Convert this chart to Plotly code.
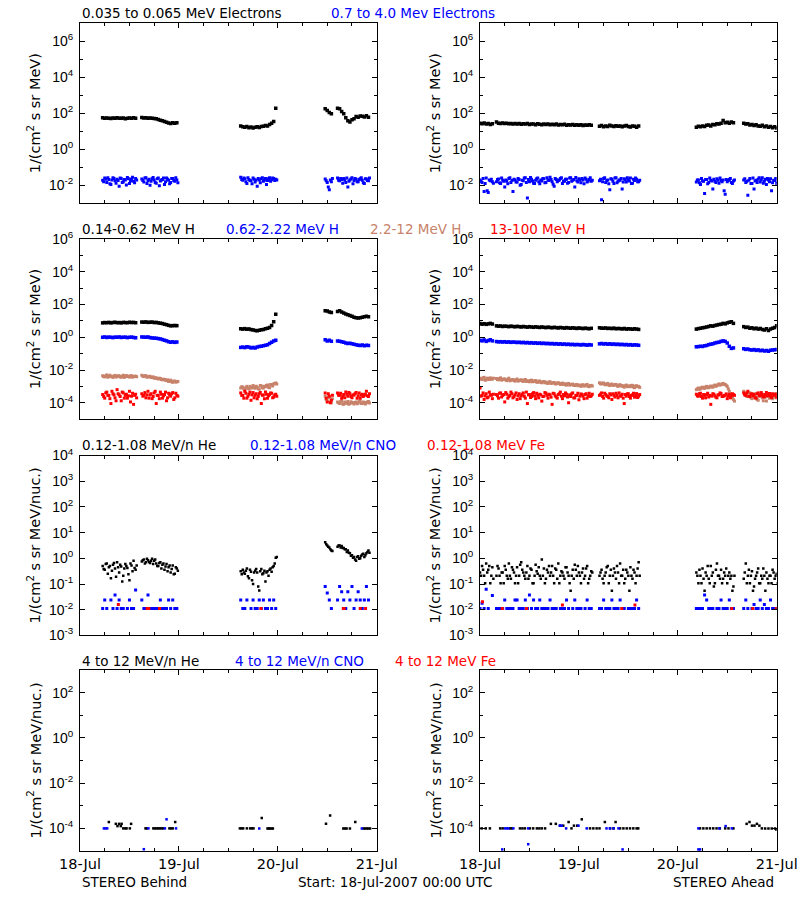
import pandas as pd
import plotly.graph_objects as go

# ---------------------------------------------------------------- data
START = pd.Timestamp("2007-07-18 00:00")
STEP_H = 0.5   # hours between samples inside a data segment
HALF_H = 0.25  # second ("_b") sample set sits half-way between the first

# start hour of each data segment (STEREO Behind / STEREO Ahead)
BEHIND_STARTS = [5.5, 15.0, 39.0, 59.5, 62.5]
AHEAD_STARTS = [0.0, 4.0, 29.0, 52.5, 64.0]

# ---- Row 1: electrons, log10 flux
beh_e_low = [
    [1.75, 1.72, 1.74, 1.73, 1.71, 1.74, 1.72, 1.75, 1.73, 1.72, 1.74, 1.70, 1.73, 1.74, 1.72, 1.75, 1.73],
    [1.76, 1.74, 1.75, 1.73, 1.74, 1.72, 1.71, 1.70, 1.66, 1.62, 1.58, 1.55, 1.50, 1.46, 1.44, 1.47, 1.45, 1.48],
    [1.30, 1.25, 1.22, 1.27, 1.20, 1.24, 1.18, 1.22, 1.25, 1.21, 1.26, 1.28, 1.32, 1.30, 1.38, 1.45, 1.55, 2.28],
    [2.25, 2.15, 2.05, 1.98],
    [2.28, 2.25, 2.10, 1.98, 1.75, 1.58, 1.52, 1.64, 1.70, 1.82, 1.78, 1.85, 1.83, 1.80, 1.86, 1.78],
]
beh_e_high = [
    [-1.72, -1.60, -1.85, -1.68, -1.95, -1.58, -1.75, -1.66, -2.05, -1.62, -1.80, -1.70, -1.57, -1.90, -1.65, -1.78, -1.62],
    [-1.65, -1.82, -1.58, -1.74, -2.00, -1.63, -1.70, -1.88, -1.60, -1.76, -1.68, -1.95, -1.59, -1.72, -1.84, -1.62, -1.78, -1.70],
    [-1.55, -1.72, -1.64, -1.90, -1.68, -1.75, -1.60, -1.82, -2.05, -1.70, -1.64, -1.78, -1.62, -1.73, -1.58, -1.69, -1.62, -1.66],
    [-1.65, -1.85, -2.25, -1.80],
    [-1.60, -1.75, -1.68, -1.62, -1.85, -2.10, -1.70, -1.58, -1.74, -1.66, -1.80, -1.63, -1.72, -1.90, -1.65, -1.75],
]
beh_e_high_b = [
    [-1.80, -1.66, -1.58, -1.92, -1.70, -1.62, -1.88, -1.74, -1.60, -1.84, -1.68, -1.98, -1.64, -1.76, -1.55, -1.86, -1.70],
    [-1.74, -1.60, -1.90, -1.66, -1.78, -1.56, -1.84, -1.64, -2.02, -1.70, -1.60, -1.80, -1.66, -1.92, -1.62, -1.74, -1.58, -1.86],
    [-1.68, -1.60, -1.80, -1.58, -1.74, -1.92, -1.66, -1.70, -1.62, -1.86, -1.58, -1.72, -1.95, -1.64, -1.78, -1.60, -1.74, -1.70],
    [-1.75, -2.10, -1.70, -1.62],
    [-1.72, -1.62, -1.88, -1.70, -1.60, -1.78, -1.65, -1.92, -1.62, -1.80, -1.68, -1.58, -1.86, -1.64, -1.74, -1.60],
]
ahe_e_low = [
    [1.45, 1.42, 1.46, 1.40, 1.44, 1.38, 1.42],
    [1.52, 1.45, 1.44, 1.46, 1.43, 1.45, 1.42, 1.44, 1.40, 1.43, 1.41, 1.44, 1.39, 1.42, 1.40, 1.43,
     1.38, 1.41, 1.40, 1.37, 1.42, 1.39, 1.36, 1.40, 1.38, 1.41, 1.36, 1.39, 1.37, 1.40, 1.35, 1.38,
     1.36, 1.39, 1.34, 1.37, 1.35, 1.38, 1.33, 1.36, 1.34, 1.37, 1.32, 1.35, 1.33, 1.36, 1.34],
    [1.28, 1.32, 1.25, 1.30, 1.27, 1.33, 1.29, 1.26, 1.31, 1.28, 1.30, 1.25, 1.29, 1.32, 1.27, 1.24, 1.30, 1.28, 1.22, 1.29],
    [1.22, 1.28, 1.25, 1.30, 1.27, 1.33, 1.35, 1.30, 1.38, 1.36, 1.42, 1.40, 1.45, 1.60, 1.48, 1.50, 1.45, 1.52, 1.47],
    [1.45, 1.40, 1.42, 1.35, 1.38, 1.32, 1.36, 1.30, 1.28, 1.33, 1.25, 1.30, 1.22, 1.27, 1.20, 1.25, 1.18],
]
ahe_e_high = [
    [-1.70, -1.85, -2.35, -1.60, -2.40, -1.75, -1.80],
    [-1.80, -1.65, -1.90, -1.72, -2.10, -1.78, -1.62, -1.85, -2.35, -1.70, -1.82, -1.68, -1.95, -1.75, -1.58, -2.70,
     -1.80, -1.66, -1.88, -1.72, -1.60, -1.92, -1.76, -1.64, -1.85, -1.70, -1.55, -1.80, -2.05, -1.68, -1.74, -1.62,
     -1.90, -1.78, -1.66, -1.84, -1.58, -1.72, -2.10, -1.75, -1.63, -1.86, -1.70, -1.60, -1.82, -1.68, -1.78],
    [-1.75, -2.80, -1.62, -1.85, -1.70, -2.25, -1.66, -1.90, -1.58, -1.78, -1.72, -2.20, -1.64, -1.82, -1.70, -1.60, -1.88, -1.74, -1.66, -1.80],
    [-1.82, -1.70, -1.95, -1.76, -2.45, -1.68, -1.85, -1.72, -2.20, -1.78, -1.64, -1.88, -1.74, -1.70, -2.50, -1.80, -1.68, -1.84, -1.76],
    [-1.70, -1.85, -2.55, -1.62, -1.90, -2.20, -1.72, -1.66, -1.82, -1.58, -1.78, -1.95, -1.70, -1.64, -1.86, -1.74, -1.90],
]
ahe_e_high_b = [
    [-1.78, -1.62, -1.90, -2.30, -1.70, -1.66, -1.88],
    [-1.68, -1.86, -1.60, -1.78, -1.70, -1.92, -1.58, -1.74, -1.66, -1.82, -1.62, -2.00, -1.72, -1.60, -1.84, -1.68,
     -1.56, -1.76, -1.90, -1.64, -1.80, -1.70, -1.62, -1.86, -1.58, -1.74, -1.68, -1.94, -1.62, -1.80, -1.70, -1.58,
     -1.76, -1.66, -1.88, -1.60, -1.78, -1.68, -1.56, -1.82, -1.70, -1.62, -1.92, -1.66, -1.76, -1.58, -1.72],
    [-1.66, -1.80, -1.58, -1.74, -1.92, -1.64, -1.78, -1.60, -1.86, -1.70, -1.62, -1.82, -1.68, -1.58, -1.76, -1.90, -1.66, -1.60, -1.80, -1.72],
    [-1.70, -1.86, -1.62, -1.78, -1.68, -1.92, -1.60, -1.76, -1.66, -1.84, -1.72, -1.60, -1.80, -2.30, -1.68, -1.74, -1.62, -1.90, -1.70],
    [-1.64, -1.78, -1.72, -1.90, -1.60, -1.76, -1.84, -1.58, -1.70, -1.88, -1.66, -1.62, -1.80, -2.30, -1.72, -1.62, -1.80],
]

# ---- Row 2: protons, log10 flux
beh_h1 = [
    [0.88, 0.90, 0.89, 0.91, 0.88, 0.90, 0.92, 0.89, 0.90, 0.88, 0.91, 0.90, 0.89, 0.92, 0.90, 0.91, 0.89],
    [0.93, 0.92, 0.94, 0.91, 0.92, 0.93, 0.90, 0.91, 0.88, 0.86, 0.84, 0.80, 0.77, 0.73, 0.70, 0.71, 0.72, 0.71],
    [0.52, 0.50, 0.53, 0.49, 0.51, 0.47, 0.45, 0.42, 0.40, 0.43, 0.46, 0.48, 0.52, 0.55, 0.60, 0.72, 0.95, 1.40],
    [1.62, 1.60, 1.55, 1.52],
    [1.58, 1.62, 1.55, 1.48, 1.42, 1.38, 1.33, 1.28, 1.22, 1.20, 1.18, 1.20, 1.22, 1.25, 1.28, 1.26],
]
beh_h2 = [
    [0.00, 0.02, -0.01, 0.01, 0.00, -0.02, 0.01, 0.00, 0.02, -0.01, 0.00, 0.01, -0.02, 0.00, 0.01, -0.01, -0.03],
    [0.02, 0.01, 0.00, 0.02, -0.02, -0.04, -0.05, -0.06, -0.08, -0.10, -0.14, -0.18, -0.22, -0.27, -0.30, -0.28, -0.31, -0.29],
    [-0.62, -0.60, -0.63, -0.58, -0.60, -0.65, -0.62, -0.66, -0.60, -0.57, -0.55, -0.52, -0.48, -0.45, -0.38, -0.30, -0.22, -0.18],
    [-0.15, -0.22, -0.18, -0.25],
    [-0.22, -0.25, -0.28, -0.30, -0.35, -0.38, -0.36, -0.40, -0.42, -0.45, -0.48, -0.50, -0.47, -0.52, -0.49, -0.50],
]
beh_h3 = [
    [-2.35, -2.42, -2.30, -2.40, -2.38, -2.45, -2.33, -2.40, -2.36, -2.44, -2.32, -2.40, -2.37, -2.43, -2.35, -2.40, -2.38],
    [-2.32, -2.40, -2.35, -2.42, -2.38, -2.45, -2.50, -2.48, -2.55, -2.52, -2.60, -2.58, -2.65, -2.70, -2.62, -2.75, -2.68, -2.72],
    [-3.10, -3.05, -3.20, -3.00, -3.15, -3.08, -2.95, -3.12, -3.05, -3.18, -2.98, -3.10, -3.02, -2.92, -3.08, -2.90, -2.85, -2.80],
    [-3.60, -3.90, -3.70, -4.00],
    [-3.95, -4.05, -3.90, -4.10, -4.00, -3.92, -4.05, -3.98, -4.08, -3.95, -4.02, -3.90, -4.05, -3.98, -4.00, -3.93],
]
beh_h3_b = [
    [-2.40, -2.36, -2.44, -2.32, -2.41, -2.37, -2.43, -2.35, -2.42, -2.38, -2.45, -2.34, -2.40, -2.36, -2.44, -2.38, -2.41],
    [-2.38, -2.35, -2.44, -2.40, -2.46, -2.42, -2.48, -2.52, -2.50, -2.58, -2.56, -2.62, -2.60, -2.66, -2.72, -2.68, -2.74, -2.70],
    [-3.02, -3.15, -3.08, -3.12, -3.00, -3.10, -3.05, -3.00, -3.15, -2.95, -3.08, -3.00, -2.95, -3.05, -2.88, -2.98, -2.82, -2.85],
    [-3.80, -3.65, -3.95, -3.75],
    [-4.00, -3.92, -4.08, -3.96, -4.05, -4.10, -3.94, -4.02, -3.98, -4.06, -3.92, -4.04, -3.96, -4.08, -3.95, -4.02],
]
beh_h4 = [
    [-3.50, -3.72, -3.35, -3.55, -4.05, -3.45, -3.70, -3.20, -3.52, -3.88, -3.40, -3.55, -3.72, -3.30, -3.60, -4.10, -3.48],
    [-3.45, -3.55, -3.70, -3.30, -3.52, -3.75, -3.40, -4.05, -3.55, -3.35, -3.72, -3.50, -3.88, -3.42, -3.60, -3.38, -3.70, -3.55],
    [-3.40, -3.55, -3.30, -3.72, -3.48, -3.85, -3.38, -3.55, -3.75, -3.45, -4.05, -3.52, -3.35, -3.72, -3.50, -3.42, -3.65, -3.48],
    [-3.40, -3.95, -3.60, -3.85],
    [-3.40, -3.55, -3.72, -3.50, -3.35, -3.60, -3.45, -3.70, -3.52, -3.38, -3.58, -3.72, -3.48, -3.55, -3.30, -3.62],
]
beh_h4_b = [
    [-3.62, -3.40, -3.55, -3.75, -3.30, -3.52, -3.88, -3.45, -3.62, -3.35, -3.72, -3.48, -3.58, -3.95, -3.42, -3.55, -3.70],
    [-3.60, -3.38, -3.52, -3.72, -3.45, -3.62, -3.30, -3.55, -3.75, -3.48, -3.58, -3.35, -3.70, -3.52, -3.45, -3.80, -3.42, -3.60],
    [-3.55, -3.72, -3.42, -3.60, -3.35, -3.52, -3.70, -3.45, -3.62, -3.38, -3.55, -3.75, -3.48, -3.58, -3.40, -3.70, -3.52, -3.60],
    [-3.72, -3.45, -4.00, -3.55],
    [-3.55, -3.42, -3.60, -3.70, -3.48, -3.38, -3.62, -3.52, -3.45, -3.72, -3.40, -3.55, -3.62, -3.48, -3.58, -3.45],
]
ahe_h1 = [
    [0.84, 0.80, 0.83, 0.79, 0.82, 0.85, 0.81],
    [0.70, 0.68, 0.69, 0.66, 0.68, 0.67, 0.65, 0.68, 0.66, 0.64, 0.67, 0.65, 0.63, 0.66, 0.64, 0.62,
     0.65, 0.63, 0.61, 0.64, 0.62, 0.60, 0.63, 0.61, 0.59, 0.62, 0.60, 0.58, 0.61, 0.59, 0.57, 0.60,
     0.58, 0.56, 0.59, 0.57, 0.55, 0.58, 0.56, 0.54, 0.57, 0.55, 0.53, 0.56, 0.54, 0.52, 0.55],
    [0.58, 0.56, 0.55, 0.57, 0.54, 0.55, 0.53, 0.56, 0.52, 0.54, 0.53, 0.51, 0.54, 0.50, 0.52, 0.51, 0.49, 0.52, 0.50, 0.48],
    [0.50, 0.53, 0.55, 0.58, 0.60, 0.63, 0.66, 0.70, 0.68, 0.72, 0.75, 0.78, 0.80, 0.85, 0.82, 0.88, 0.92, 0.95, 0.85],
    [0.65, 0.60, 0.62, 0.55, 0.58, 0.52, 0.56, 0.50, 0.54, 0.48, 0.45, 0.52, 0.42, 0.50, 0.55, 0.60, 0.70],
]
ahe_h2 = [
    [-0.18, -0.22, -0.16, -0.25, -0.20, -0.15, -0.22],
    [-0.26, -0.28, -0.27, -0.29, -0.27, -0.30, -0.28, -0.31, -0.29, -0.30, -0.32, -0.30, -0.33, -0.31, -0.34, -0.32,
     -0.35, -0.33, -0.36, -0.34, -0.37, -0.35, -0.38, -0.36, -0.39, -0.37, -0.40, -0.38, -0.41, -0.39, -0.42, -0.40,
     -0.43, -0.41, -0.44, -0.42, -0.45, -0.43, -0.46, -0.44, -0.45, -0.47, -0.44, -0.46, -0.48, -0.45, -0.47],
    [-0.40, -0.38, -0.41, -0.39, -0.42, -0.40, -0.43, -0.41, -0.44, -0.42, -0.45, -0.43, -0.46, -0.44, -0.47, -0.45, -0.48, -0.46, -0.47, -0.49],
    [-0.58, -0.57, -0.55, -0.56, -0.52, -0.50, -0.45, -0.42, -0.40, -0.35, -0.32, -0.30, -0.25, -0.22, -0.25, -0.35, -0.55, -0.68, -0.65],
    [-0.70, -0.74, -0.72, -0.76, -0.78, -0.75, -0.80, -0.77, -0.82, -0.79, -0.84, -0.81, -0.85, -0.80, -0.78, -0.76, -0.74],
]
ahe_h3 = [
    [-2.50, -2.58, -2.45, -2.60, -2.52, -2.48, -2.56],
    [-2.52, -2.60, -2.48, -2.58, -2.55, -2.65, -2.50, -2.62, -2.58, -2.68, -2.55, -2.64, -2.60, -2.70, -2.58, -2.66,
     -2.72, -2.62, -2.70, -2.65, -2.75, -2.68, -2.78, -2.70, -2.74, -2.82, -2.72, -2.80, -2.76, -2.85, -2.78, -2.88,
     -2.80, -2.84, -2.92, -2.82, -2.90, -2.86, -2.95, -2.88, -2.92, -3.00, -2.90, -2.96, -2.88, -3.02, -2.94],
    [-2.78, -2.85, -2.80, -2.90, -2.82, -2.95, -2.86, -2.92, -2.88, -3.00, -2.90, -2.95, -3.05, -2.92, -2.98, -3.02, -2.94, -3.08, -2.96, -3.00],
    [-3.20, -3.10, -3.15, -3.05, -3.12, -3.00, -3.08, -2.98, -3.05, -2.92, -2.95, -2.85, -2.90, -2.82, -2.88, -3.00, -3.30, -3.60, -3.80],
    [-3.30, -3.45, -3.60, -3.40, -3.75, -3.52, -3.65, -3.85, -3.48, -3.70, -3.58, -3.90, -3.62, -3.50, -3.75, -3.60, -3.45],
]
ahe_h3_b = [
    [-2.55, -2.48, -2.62, -2.50, -2.58, -2.54, -2.50],
    [-2.58, -2.52, -2.62, -2.55, -2.60, -2.57, -2.66, -2.60, -2.64, -2.60, -2.68, -2.62, -2.66, -2.62, -2.70, -2.68,
     -2.64, -2.72, -2.66, -2.74, -2.68, -2.76, -2.72, -2.78, -2.80, -2.74, -2.82, -2.78, -2.84, -2.80, -2.82, -2.86,
     -2.88, -2.90, -2.84, -2.92, -2.88, -2.94, -2.90, -2.96, -2.94, -2.92, -2.98, -2.92, -3.00, -2.95, -2.98],
    [-2.84, -2.80, -2.88, -2.85, -2.92, -2.88, -2.94, -2.90, -2.96, -2.92, -2.98, -3.00, -2.96, -3.02, -2.98, -2.94, -3.04, -2.98, -3.02, -3.06],
    [-3.15, -3.18, -3.08, -3.10, -3.04, -3.08, -3.02, -3.04, -2.96, -3.00, -2.90, -2.92, -2.86, -2.88, -2.94, -3.15, -3.45, -3.70, -3.90],
    [-3.50, -3.62, -3.40, -3.70, -3.58, -3.45, -3.80, -3.60, -3.55, -3.88, -3.65, -3.52, -3.72, -3.58, -3.66, -3.48, -3.62],
]
ahe_h4 = [
    [-3.10, -3.55, -3.80, -3.45, -3.65, -3.50, -3.75],
    [-3.50, -3.72, -3.40, -3.55, -3.95, -3.48, -3.62, -3.35, -3.70, -3.52, -3.80, -3.45, -3.58, -3.40, -3.72, -4.05,
     -3.50, -3.62, -3.38, -3.75, -3.55, -3.48, -3.90, -3.60, -3.42, -3.72, -3.52, -4.10, -3.45, -3.65, -3.50, -3.35,
     -3.75, -3.58, -3.48, -4.00, -3.62, -3.40, -3.70, -3.55, -3.82, -3.46, -3.60, -3.50, -3.72, -3.42, -3.58],
    [-3.55, -3.40, -3.72, -3.50, -3.62, -3.45, -3.80, -3.55, -3.42, -3.70, -3.58, -3.48, -4.05, -3.60, -3.45, -3.72, -3.52, -3.66, -3.44, -3.60],
    [-3.48, -3.60, -3.42, -3.72, -3.55, -3.50, -3.65, -4.10, -3.45, -3.58, -3.70, -3.52, -3.44, -3.62, -3.55, -3.75, -3.48, -3.58, -3.50],
    [-3.40, -3.55, -3.30, -3.62, -3.45, -3.50, -3.72, -3.40, -3.58, -3.48, -3.65, -3.38, -3.52, -3.60, -3.45, -3.55, -3.70],
]
ahe_h4_b = [
    [-3.60, -3.40, -3.58, -3.70, -3.35, -3.55, -3.48],
    [-3.58, -3.42, -3.65, -3.50, -3.38, -3.72, -3.55, -3.45, -3.62, -3.40, -3.58, -3.75, -3.48, -3.60, -3.35, -3.52,
     -3.68, -3.45, -3.58, -3.42, -3.70, -3.52, -3.62, -3.38, -3.55, -3.48, -3.66, -3.42, -3.58, -3.72, -3.45, -3.60,
     -3.50, -3.40, -3.65, -3.52, -3.46, -3.70, -3.55, -3.42, -3.60, -3.50, -3.75, -3.45, -3.58, -3.62, -3.48],
    [-3.48, -3.62, -3.42, -3.58, -3.70, -3.52, -3.45, -3.65, -3.55, -3.40, -3.60, -3.72, -3.50, -3.46, -3.62, -3.55, -3.42, -3.58, -3.68, -3.50],
    [-3.58, -3.45, -3.62, -3.50, -3.70, -3.42, -3.55, -3.60, -3.48, -3.66, -3.52, -3.40, -3.62, -3.55, -3.46, -3.60, -3.70, -3.45, -3.55],
    [-3.52, -3.40, -3.62, -3.48, -3.58, -3.70, -3.45, -3.55, -3.38, -3.62, -3.50, -3.58, -3.44, -3.68, -3.52, -3.46, -3.60],
]

# ---- Row 3: 0.12-1.08 MeV/n ions, log10 flux (None = no counts)
beh_he = [
    [-0.30, -0.45, -0.20, -0.35, -0.78, -0.25, -0.40, -0.15, -0.55, -0.32, -0.68, -0.22, -0.38, -0.85, -0.28, -0.10, -0.45],
    [-0.12, -0.05, -0.15, -0.08, -0.18, -0.02, -0.10, -0.20, -0.30, -0.15, -0.25, -0.45, -0.22, -0.35, -0.55, -0.28, -0.60, -0.40],
    [-0.50, -0.45, -0.60, -0.40, -0.78, -0.52, -1.00, -0.48, -0.55, -1.25, -0.42, -0.58, -0.90, -0.50, -0.45, -0.52, -0.30, 0.02],
    [0.62, 0.50, 0.42, 0.30],
    [0.45, 0.50, 0.48, 0.40, 0.35, 0.30, 0.20, 0.12, 0.05, -0.10, 0.08, 0.00, 0.15, 0.05, 0.20, 0.30],
]
beh_he_b = [
    [-0.42, -0.22, -0.60, -0.30, -0.48, -0.18, -0.72, -0.35, -0.25, -0.90, -0.40, -0.30, -0.62, -0.20, -0.50, -0.38, -0.28],
    [-0.08, -0.20, -0.02, -0.14, -0.10, -0.22, -0.05, -0.30, -0.18, -0.40, -0.20, -0.32, -0.50, -0.28, -0.42, -0.62, -0.35, -0.48],
    [-0.62, -0.55, -0.48, -0.70, -0.45, -0.85, -0.55, -0.42, -1.10, -0.50, -0.62, -0.48, -0.55, -0.68, -0.40, -0.35, -0.20, 0.05],
    [0.55, 0.45, 0.35, 0.28],
    [0.50, 0.42, 0.40, 0.35, 0.25, 0.22, 0.10, 0.02, -0.05, 0.05, -0.02, 0.10, 0.18, 0.12, 0.25, 0.22],
]
beh_cno = [
    [-1.95, -1.62, -1.95, None, -1.62, -1.95, -1.43, -1.95, -1.62, -1.95, -1.95, None, -1.95, -1.62, -1.95, -1.95, -1.23],
    [-1.62, -1.95, -1.95, -1.43, -1.95, -1.95, -1.95, -1.95, -1.95, -1.62, -1.95, -1.95, -1.95, -1.62, -1.95, -1.62, -1.95, -1.95],
    [-1.62, -1.95, -1.95, -1.62, None, -1.95, -1.62, -1.95, -1.95, -1.62, -1.95, -1.62, -1.95, -1.95, -1.62, -1.95, -1.62, -1.95],
    [-1.10, -1.35, -1.62, -1.95],
    [-1.62, -1.10, -1.30, -1.62, -1.95, -1.30, -1.62, -1.10, -1.95, -1.62, -1.30, -1.62, -1.95, -1.62, -1.10, -1.62],
]
beh_fe_hours = [9.3, 16.3, 16.7, 19.3, 43.9, 63.9, 64.1, 68.0, 69.3]
beh_fe = [-1.80, -1.95, -1.95, -1.95, -1.95, -1.95, -1.95, -1.95, -1.95]

ahe_he = [
    [-0.55, -0.30, -0.68, -0.20, -0.45, -0.97, -0.35],
    [-0.68, -0.40, -0.97, -0.55, -0.30, -0.68, -0.20, -0.80, -0.45, -0.97, -0.35, -0.68, -0.15, -0.55, -0.80, -0.30,
     -0.68, -0.45, -0.97, -0.25, -0.60, -0.68, -0.05, -0.40, -0.80, -0.55, -0.68, -0.30, -0.97, -0.45, -0.20, -0.68,
     -0.55, -0.80, -0.35, -0.68, -1.26, -0.45, -0.25, -0.68, -0.55, -0.97, -0.40, -0.68, -0.30, -0.80, -0.50],
    [-0.68, -0.45, -0.97, -0.55, -0.30, -0.68, -1.26, -0.40, -0.80, -0.55, -0.20, -0.68, -0.97, -0.45, -0.68, -0.35, -0.80, -0.55, -0.68, -0.15],
    [-0.55, -0.97, -0.68, -0.40, -1.26, -0.68, -0.80, -0.30, -0.55, -0.97, -0.20, -0.68, -0.45, -0.80, -0.68, -0.97, -0.55, -0.68, -1.10],
    [-0.80, -0.20, -0.68, -0.97, -0.50, -1.10, -0.68, -0.40, -0.97, -0.80, -0.68, -0.55, -0.97, -0.68, -0.45, -0.80, -0.60],
]
ahe_he_b = [
    [-0.68, -0.45, -0.97, -0.55, -0.30, -0.68, -0.80],
    [-0.30, -0.68, -0.55, -0.97, -0.45, -0.80, -0.68, -0.35, -0.55, -0.68, -0.97, -0.25, -0.45, -0.68, -0.55, -0.80,
     -0.40, -0.97, -0.68, -0.50, -0.35, -0.80, -0.68, -0.97, -0.45, -0.30, -0.55, -0.68, -0.40, -0.80, -0.97, -0.50,
     -0.68, -0.35, -0.55, -0.97, -0.68, -0.80, -0.45, -0.30, -0.68, -0.55, -0.80, -0.40, -0.97, -0.68, -0.55],
    [-0.55, -0.80, -0.68, -0.35, -0.97, -0.45, -0.68, -0.55, -0.30, -0.97, -0.68, -0.45, -0.80, -0.55, -1.26, -0.68, -0.45, -0.97, -0.40, -0.68],
    [-0.68, -0.45, -0.97, -0.80, -0.55, -0.30, -0.97, -0.68, -1.10, -0.45, -0.68, -0.80, -0.97, -0.55, -0.40, -0.68, -0.80, -1.26, -0.68],
    [-0.55, -0.97, -0.45, -0.68, -1.26, -0.80, -0.55, -0.97, -0.68, -0.40, -1.26, -0.80, -0.68, -0.97, -0.55, -0.68, -0.97],
]
ahe_cno = [
    [-1.95, -1.75, -1.95, -1.20, -1.95, None, -1.45],
    [-1.95, -1.95, -1.95, -1.95, -1.62, -1.95, -1.95, -1.95, -1.95, -1.62, -1.62, -1.95, -1.95, -1.95, -1.62, -1.95,
     -1.43, -1.95, -1.62, -1.95, -1.95, -1.62, -1.95, -1.95, -1.95, -1.95, -1.62, -1.95, -1.95, -1.95, None, -1.95,
     -1.95, -1.95, -1.62, -1.95, None, -1.95, -1.62, -1.95, -1.95, -1.95, None, -1.95, -1.62, -1.95, -1.95],
    [-1.95, -1.95, -1.62, -1.95, -1.95, -1.95, -1.62, -1.95, -1.95, -1.95, -1.62, -1.95, -1.95, None, -1.95, -1.95, -1.95, -1.95, -1.62, -1.95],
    [-1.95, -1.95, -1.95, -1.95, -1.43, -1.62, -1.95, -1.95, -1.95, None, -1.95, -1.95, -1.62, -1.95, -1.95, -1.95, -1.62, -1.95, -1.95],
    [-1.95, -1.62, -1.95, None, -1.95, -1.80, -1.95, -1.95, -1.62, -1.95, -1.80, -1.95, -1.95, -1.62, -1.95, -1.95, -1.95],
]
ahe_fe_hours = [0.6, 5.4, 11.3, 20.0, 34.4, 37.6, 61.1, 66.2, 71.9]
ahe_fe = [-1.69, -1.95, -1.95, -1.82, -1.95, -1.82, -1.95, -1.95, -1.95]

# ---- Row 4: 4-12 MeV/n ions (sparse), hours and log10 flux
beh_he4_hours = [7.0, 8.7, 9.1, 9.5, 9.9, 10.1, 10.5, 11.0, 11.3, 12.1, 12.4, 15.9, 16.2, 17.8, 18.2, 18.6, 19.0,
                 19.4, 19.8, 20.2, 21.7, 22.1, 22.5, 23.1, 38.8, 39.2, 39.6, 40.5, 41.3, 41.7, 42.1, 44.1, 45.5,
                 45.8, 46.1, 46.5, 46.8, 59.7, 60.7, 63.9, 64.3, 64.7, 65.5, 66.8, 68.8, 69.2, 69.6, 70.0, 70.4]
beh_he4 = [-3.72, -3.80, -3.90, -3.80, -3.90, -3.80, -4.00, -4.00, -4.00, -4.00, -3.80, -4.00, -4.00, -4.00, -4.00,
           -4.00, -4.00, -4.00, -4.00, -4.00, -4.00, -4.00, -4.00, -3.72, -4.00, -4.00, -4.00, -4.00, -4.00, -4.00,
           -4.00, -3.54, -4.00, -4.00, -4.00, -4.00, -4.00, -3.80, -3.43, -4.00, -4.00, -4.00, -4.00, -3.72, -4.00,
           -4.00, -4.00, -4.00, -4.00]
beh_cno4_hours = [5.8, 6.2, 6.6, 15.5, 16.6, 20.6, 21.0, 23.3, 43.5, 68.4]
beh_cno4 = [-4.00, -4.00, -4.00, -4.92, -4.00, -4.00, -3.60, -4.00, -4.00, -4.00]
ahe_he4_hours = [0.4, 1.4, 2.4, 4.9, 5.5, 7.3, 7.7, 9.7, 10.3, 10.9, 12.1, 12.9, 13.8, 14.4, 15.0, 15.8, 17.2,
                 18.4, 19.4, 20.2, 21.5, 22.2, 22.8, 23.6, 24.7, 26.7, 27.5, 28.3, 29.0, 30.3, 31.6, 32.4, 32.9,
                 34.0, 34.8, 35.6, 36.4, 37.2, 38.0, 38.4, 53.4, 54.2, 55.0, 55.8, 56.6, 57.4, 58.2, 59.5, 60.3,
                 61.5, 64.7, 65.4, 66.0, 66.6, 67.2, 67.8, 68.4, 69.2, 70.0, 70.8, 71.6, 71.9]
ahe_he4 = [-4.00, -4.00, -4.00, -4.00, -4.00, -4.00, -4.00, -4.00, -4.00, -4.00, -4.00, -4.00, -4.00, -4.00, -4.00,
           -4.00, -3.80, -3.80, -3.88, -3.88, -3.72, -4.00, -3.88, -3.88, -3.60, -4.00, -4.00, -4.00, -4.00, -3.72,
           -4.00, -4.00, -3.72, -4.00, -4.00, -4.00, -4.00, -4.00, -4.00, -4.00, -4.00, -4.00, -4.00, -4.00, -4.00,
           -4.00, -4.00, -4.00, -4.00, -4.00, -3.80, -3.72, -3.88, -3.88, -3.80, -3.88, -4.00, -4.00, -4.00, -4.00,
           -4.00, -4.05]
ahe_cno4_hours = [5.4, 6.1, 6.5, 6.9, 8.1, 11.7, 11.7, 19.4, 19.8, 20.9, 23.9, 25.9, 30.7, 31.5, 32.4, 33.6,
                  34.6, 53.0, 53.4, 53.0, 58.1, 59.6, 61.1]
ahe_cno4 = [-4.93, -4.00, -4.00, -4.00, -4.00, -4.00, -4.70, -3.88, -3.88, -4.00, -3.88, -4.00, -4.00, -4.00, -4.00,
            -4.00, -4.93, -4.00, -4.93, -4.93, -4.00, -3.90, -4.00]

# ---- axes
Y_RANGES = [(-3, 7), (-5, 6), (-3, 4), (-5, 3)]           # log10 range per row
Y_MAJOR = [[6, 4, 2, 0, -2], [6, 4, 2, 0, -2, -4], [4, 3, 2, 1, 0, -1, -2, -3], [2, 0, -2, -4]]
Y_TITLES = ["1/(cm<sup>2</sup> s sr MeV)", "1/(cm<sup>2</sup> s sr MeV)",
            "1/(cm<sup>2</sup> s sr MeV/nuc.)", "1/(cm<sup>2</sup> s sr MeV/nuc.)"]
X_TICK_LABELS = ["18-Jul", "19-Jul", "20-Jul", "21-Jul"]

ROW_TITLES = [
    [("0.035 to 0.065 MeV Electrons", "black"), ("0.7 to 4.0 Mev Electrons", "blue")],
    [("0.14-0.62 MeV H", "black"), ("0.62-2.22 MeV H", "blue"), ("2.2-12 MeV H", "sienna"), ("13-100 MeV H", "red")],
    [("0.12-1.08 MeV/n He", "black"), ("0.12-1.08 MeV/n CNO", "blue"), ("0.12-1.08 MeV Fe", "red")],
    [("4 to 12 MeV/n He", "black"), ("4 to 12 MeV/n CNO", "blue"), ("4 to 12 MeV Fe", "red")],
]

# ---------------------------------------------------------------- styling / layout
W, H = 800, 900
FONT = "DejaVu Sans"
COLORS = {"black": "#000000", "blue": "#0000ff", "sienna": "#c8826a", "red": "#ff0000"}
COL_PX = [(80, 376.7), (480, 776.7)]
ROW_PX = [(23.3, 203.3), (239.1, 419.1), (455.5, 635.4), (670.0, 851.0)]
TITLE_PX = [(13, [80, 329]), (229, [80, 224, 368, 488]), (445, [80, 248, 425]), (661, [80, 233, 393])]


def px_x(x):
    return x / W


def px_y(y):
    return 1 - y / H


def seg_points(starts, segs, offset=0.0):
    xs, ys = [], []
    for s, vals in zip(starts, segs):
        for i, v in enumerate(vals):
            if v is None:
                continue
            xs.append(START + pd.Timedelta(hours=s + offset + STEP_H * i))
            ys.append(10 ** v)
    return xs, ys


def merged(starts, a, b):
    xa, ya = seg_points(starts, a)
    xb, yb = seg_points(starts, b, HALF_H)
    return xa + xb, ya + yb


def sparse_points(hours, logs):
    return [START + pd.Timedelta(hours=h) for h in hours], [10 ** v for v in logs]


B, A = BEHIND_STARTS, AHEAD_STARTS
panels = [
    # (row, col, [(points, color, marker size), ...])
    (0, 0, [(seg_points(B, beh_e_low), "black", 3.5), (merged(B, beh_e_high, beh_e_high_b), "blue", 3)]),
    (0, 1, [(seg_points(A, ahe_e_low), "black", 3.5), (merged(A, ahe_e_high, ahe_e_high_b), "blue", 3)]),
    (1, 0, [(seg_points(B, beh_h1), "black", 3.5), (seg_points(B, beh_h2), "blue", 3.5),
            (merged(B, beh_h3, beh_h3_b), "sienna", 3), (merged(B, beh_h4, beh_h4_b), "red", 3)]),
    (1, 1, [(seg_points(A, ahe_h1), "black", 3.5), (seg_points(A, ahe_h2), "blue", 3.5),
            (merged(A, ahe_h3, ahe_h3_b), "sienna", 3), (merged(A, ahe_h4, ahe_h4_b), "red", 3)]),
    (2, 0, [(merged(B, beh_he, beh_he_b), "black", 2.5), (seg_points(B, beh_cno), "blue", 3),
            (sparse_points(beh_fe_hours, beh_fe), "red", 3)]),
    (2, 1, [(merged(A, ahe_he, ahe_he_b), "black", 2.5), (seg_points(A, ahe_cno), "blue", 3),
            (sparse_points(ahe_fe_hours, ahe_fe), "red", 3)]),
    (3, 0, [(sparse_points(beh_he4_hours, beh_he4), "black", 2.5), (sparse_points(beh_cno4_hours, beh_cno4), "blue", 2.5)]),
    (3, 1, [(sparse_points(ahe_he4_hours, ahe_he4), "black", 2.5), (sparse_points(ahe_cno4_hours, ahe_cno4), "blue", 2.5)]),
]

fig = go.Figure()
layout = dict(
    width=W, height=H, margin=dict(l=0, r=0, t=0, b=0, pad=0, autoexpand=False),
    paper_bgcolor="white", plot_bgcolor="white", showlegend=False,
    font=dict(family=FONT, size=13.5, color="black"),
)
annotations = []

x_start = START
x_end = START + pd.Timedelta(days=3)
tickvals_x = [START + pd.Timedelta(days=d) for d in range(4)]

for idx, (r, c, series) in enumerate(panels):
    n = idx + 1
    xa = "xaxis" if n == 1 else f"xaxis{n}"
    ya = "yaxis" if n == 1 else f"yaxis{n}"
    xref = "x" if n == 1 else f"x{n}"
    yref = "y" if n == 1 else f"y{n}"
    x0, x1 = COL_PX[c]
    y0, y1 = ROW_PX[r]
    lo, hi = Y_RANGES[r]
    layout[xa] = dict(
        domain=[px_x(x0), px_x(x1)], anchor=yref, type="date", automargin=False,
        range=[x_start, x_end], tickvals=tickvals_x, ticktext=X_TICK_LABELS,
        showticklabels=(r == 3), ticks="inside", ticklen=5, tickcolor="black",
        mirror="allticks", showline=True, linecolor="black", linewidth=1,
        showgrid=False, zeroline=False, tickfont=dict(family=FONT, size=14.5),
        minor=dict(dtick=6 * 3600 * 1000, tick0=START, ticks="inside", ticklen=3,
                   tickcolor="black", showgrid=False),
    )
    major = Y_MAJOR[r]
    minor_vals = [10 ** k for k in range(lo, hi + 1) if k not in major]
    layout[ya] = dict(
        domain=[px_y(y1), px_y(y0)], anchor=xref, type="log", automargin=False,
        range=[lo, hi], tickvals=[10 ** k for k in major],
        ticktext=[f"10<sup>{k}</sup>" for k in major],
        ticks="inside", ticklen=5, tickcolor="black",
        mirror="allticks", showline=True, linecolor="black", linewidth=1,
        showgrid=False, zeroline=False, ticklabelstandoff=3,
        tickfont=dict(family="Liberation Sans", size=14),
        minor=dict(tickvals=minor_vals, ticks="inside", ticklen=3, tickcolor="black", showgrid=False),
    )
    for (xs, ys), col, msize in series:
        fig.add_trace(go.Scatter(
            x=xs, y=ys, mode="markers", xaxis=xref, yaxis=yref,
            marker=dict(symbol="square", size=msize, color=COLORS[col], line=dict(width=0)),
            hoverinfo="skip",
        ))
    # y-axis title
    annotations.append(dict(
        text=Y_TITLES[r], x=px_x(x0 - 46), y=px_y((y0 + y1) / 2), xref="paper", yref="paper",
        textangle=-90, showarrow=False, xanchor="center", yanchor="middle",
        font=dict(family=FONT, size=14.5, color="black"),
    ))

# row titles
for r, (ty, xs_px) in enumerate(TITLE_PX):
    for (txt, col), xp in zip(ROW_TITLES[r], xs_px):
        annotations.append(dict(
            text=txt, x=px_x(xp), y=px_y(ty), xref="paper", yref="paper", showarrow=False,
            xanchor="left", yanchor="middle", font=dict(family=FONT, size=13.5, color=COLORS[col]),
        ))

# footer
for txt, xp, anchor in [("STEREO Behind", 80, "left"), ("Start: 18-Jul-2007 00:00 UTC", 296, "left"),
                        ("STEREO Ahead", 776, "right")]:
    annotations.append(dict(
        text=txt, x=px_x(xp), y=px_y(882), xref="paper", yref="paper", showarrow=False,
        xanchor=anchor, yanchor="middle", font=dict(family=FONT, size=13.5, color="black"),
    ))

layout["annotations"] = annotations
fig.update_layout(**layout)
fig.write_html("out.html")
